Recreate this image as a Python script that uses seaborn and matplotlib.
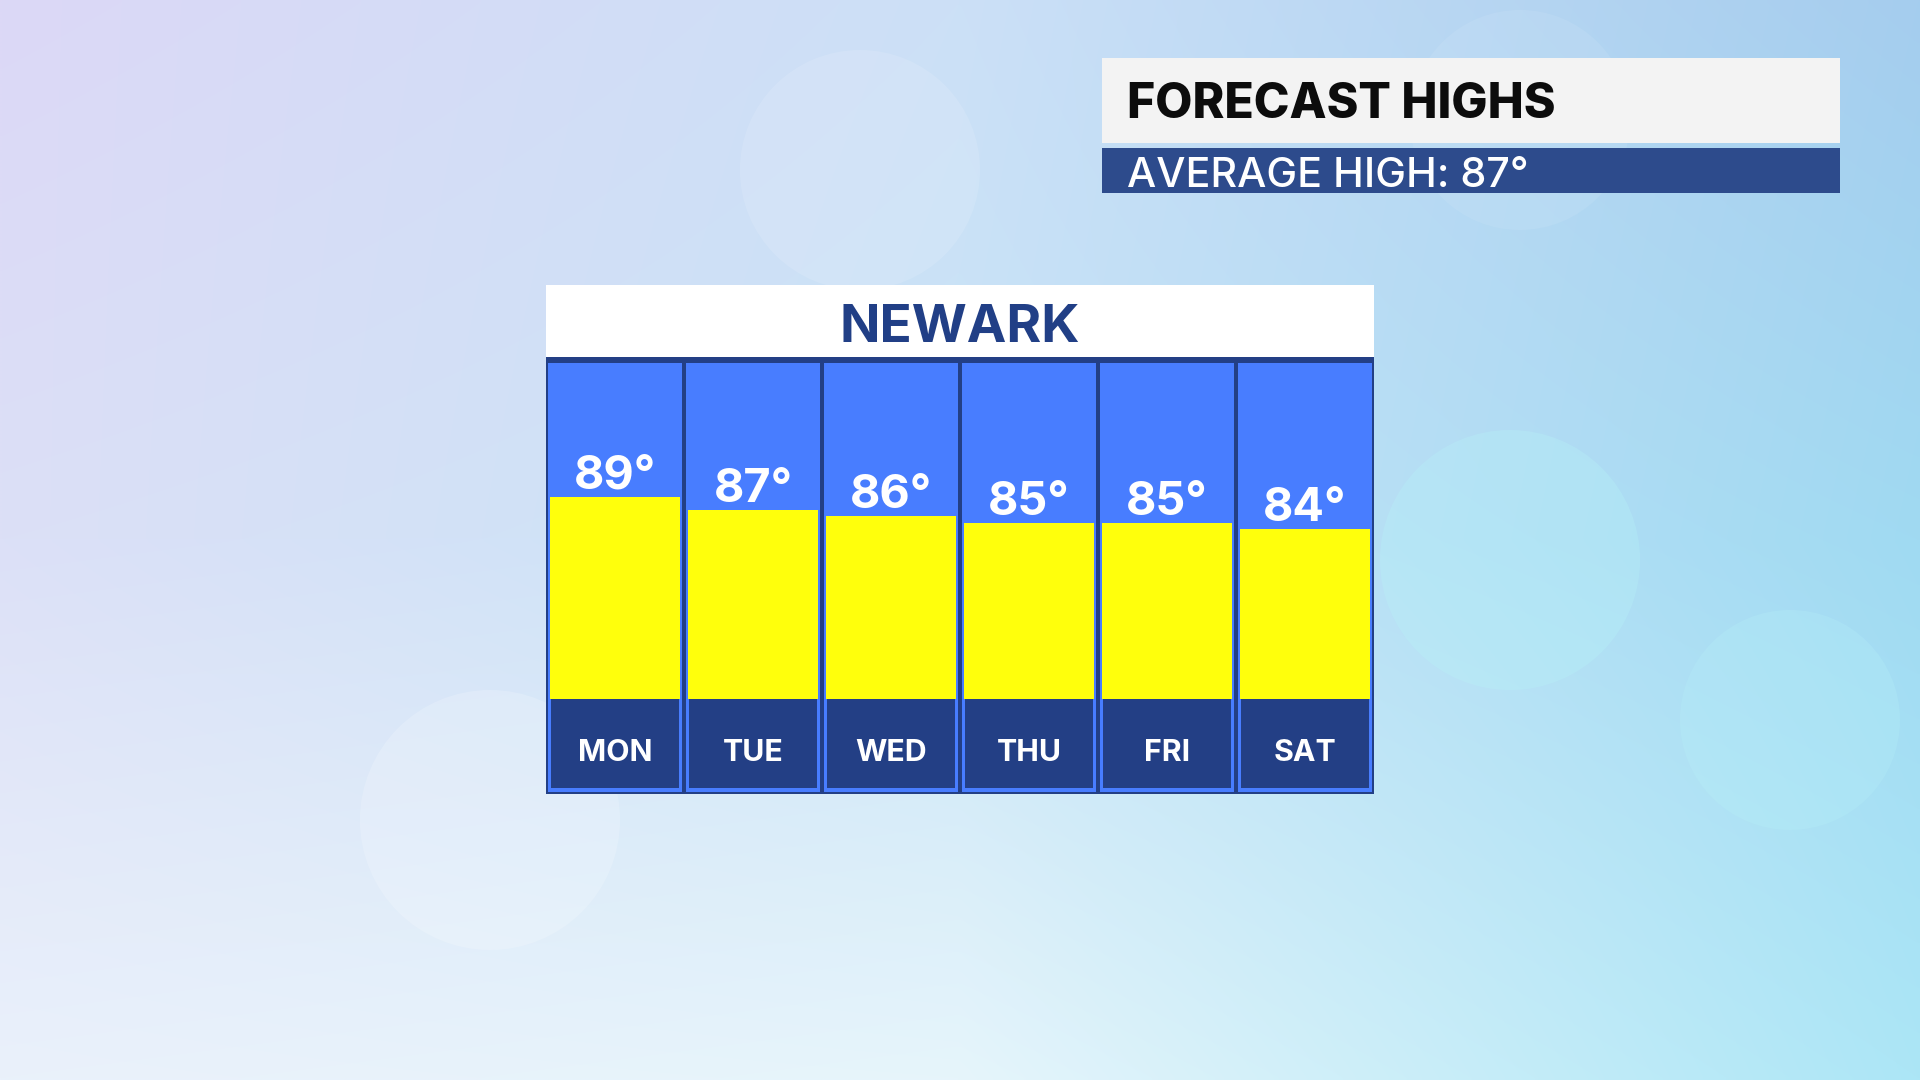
import matplotlib
matplotlib.use('Agg')
import matplotlib.pyplot as plt
from matplotlib.patches import Rectangle, Circle
import numpy as np
import seaborn as sns

# data
days = ['MON', 'TUE', 'WED', 'THU', 'FRI', 'SAT']
highs = [89, 87, 86, 85, 85, 84]
city = 'NEWARK'
title = 'FORECAST HIGHS'
avg_high = 87

sns.set_theme(style='white')
plt.rcParams['font.family'] = ['Inter', 'DejaVu Sans']

W, H = 1920, 1080
fig = plt.figure(figsize=(19.2, 10.8), dpi=100)

def fx(px):
    return px / W

def fy(py):
    return 1 - py / H

# background gradient
bg = fig.add_axes([0, 0, 1, 1])
grid = np.array([
    [[220, 216, 246], [204, 224, 247], [165, 205, 238]],
    [[220, 224, 247], [200, 228, 247], [160, 218, 242]],
    [[234, 241, 251], [230, 245, 251], [172, 230, 246]],
], dtype=float) / 255
yy, xx = np.mgrid[0:1:270j, 0:1:480j]
def interp(g):
    gx = xx * 2
    gy = yy * 2
    ix = np.clip(gx.astype(int), 0, 1)
    iy = np.clip(gy.astype(int), 0, 1)
    tx = gx - ix
    ty = gy - iy
    out = np.zeros(xx.shape + (3,))
    for c in range(3):
        a = g[iy, ix, c] * (1 - tx) + g[iy, ix + 1, c] * tx
        b = g[iy + 1, ix, c] * (1 - tx) + g[iy + 1, ix + 1, c] * tx
        out[..., c] = a * (1 - ty) + b * ty
    return out
bg.imshow(interp(grid), extent=[0, W, H, 0], aspect='auto', interpolation='bilinear')
for (cx, cy, r, col, a) in [(860, 170, 120, 'white', 0.12), (1520, 120, 110, 'white', 0.08),
                            (1510, 560, 130, '#b8f4f8', 0.3), (1790, 720, 110, '#b8f2f8', 0.25),
                            (490, 820, 130, 'white', 0.18), (1250, 470, 90, 'white', 0.08)]:
    bg.add_patch(Circle((cx, cy), r, color=col, alpha=a, lw=0))
bg.set_xlim(0, W)
bg.set_ylim(H, 0)
bg.axis('off')

# top-right header
fig.patches.append(Rectangle((fx(1102), fy(143)), (1840 - 1102) / W, (143 - 58) / H,
                             transform=fig.transFigure, color='#f3f3f3', lw=0, zorder=1))
fig.patches.append(Rectangle((fx(1102), fy(193)), (1840 - 1102) / W, (193 - 148) / H,
                             transform=fig.transFigure, color='#2d4b8c', lw=0, zorder=1))
fig.text(fx(1127), fy(118), title, fontsize=34.7, fontweight='heavy', color='#0c0c0c',
         va='baseline', ha='left', zorder=2)
fig.text(fx(1127), fy(187), f'AVERAGE HIGH: {avg_high}°', fontsize=29.7, fontweight='medium',
         color='white', va='baseline', ha='left', zorder=2)

# city header
fig.patches.append(Rectangle((fx(546), fy(357)), (1374 - 546) / W, (357 - 285) / H,
                             transform=fig.transFigure, color='white', lw=0, zorder=1))
fig.text(fx(960), fy(342), city, fontsize=38.2, fontweight='bold', color='#213f86',
         ha='center', va='baseline', zorder=2)

# bar panel: pixel -> degree mapping
px_per_deg = 6.4
def val(py):
    return highs[0] - (py - 497) / px_per_deg

navy = '#233f85'
blue = '#487dff'
yellow = '#ffff0c'

ax = fig.add_axes([fx(546), fy(794), (1374 - 546) / W, (794 - 357) / H])
ax.set_facecolor(navy)
x = np.arange(len(days))
col_bot, col_top = val(792), val(363)
ax.bar(x, col_top - col_bot, bottom=col_bot, width=0.964, color=blue, lw=0, zorder=1)
sns.barplot(x=days, y=highs, color=yellow, width=0.935, saturation=1, linewidth=0, ax=ax, zorder=2)
lab_top, lab_bot = val(699), val(788)
ax.bar(x, lab_top - col_bot, bottom=col_bot, width=0.964, color=blue, lw=0, zorder=3)
ax.bar(x, lab_top - lab_bot, bottom=lab_bot, width=0.928, color=navy, lw=0, zorder=4)
ax.axhspan(val(820), col_bot, color=navy, lw=0, zorder=4)

for i, v in enumerate(highs):
    ax.annotate(f'{v}°', (i, v), xytext=(0, 5.8), textcoords='offset points',
                ha='center', va='baseline', fontsize=33.7, fontweight='bold', color='white', zorder=5)
    ax.text(i, val(761), days[i], ha='center', va='baseline', fontsize=21.8,
            fontweight='bold', color='white', zorder=5)

ax.set_xlim(-0.5, len(days) - 0.5)
ax.set_ylim(val(794), val(357))
ax.set_xticks([])
ax.set_yticks([])
ax.set_xlabel('')
ax.set_ylabel('')
for s in ax.spines.values():
    s.set_visible(False)

fig.savefig('out.png', dpi=100)
